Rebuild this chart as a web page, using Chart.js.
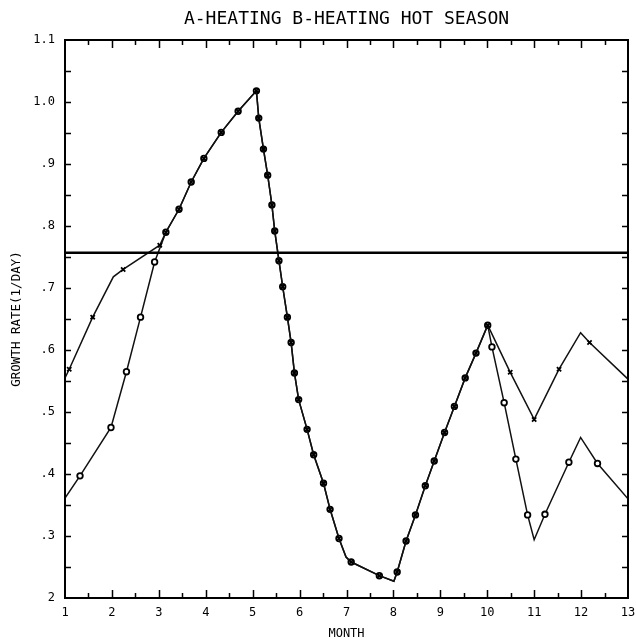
<!DOCTYPE html>
<html><head><meta charset="utf-8">
<script src="https://cdn.jsdelivr.net/npm/chart.js@4/dist/chart.umd.min.js"></script>
<style>html,body{margin:0;padding:0;background:#fff}</style>
</head><body>
<canvas id="c" width="636" height="640"></canvas>
<script>
// ---- text ----
const titleText = 'A-HEATING B-HEATING HOT SEASON';
const xTitleText = 'MONTH';
const yTitleText = 'GROWTH RATE(1/DAY)';
const xTickLabels = ['1','2','3','4','5','6','7','8','9','10','11','12','13'];
const yTickValues = [0.2,0.3,0.4,0.5,0.6,0.7,0.8,0.9,1.0,1.1];
const yTickLabels = ['2','.3','.4','.5','.6','.7','.8','.9','1.0','1.1'];

// ---- data ----
const aStartMonths = [1, 1.09, 1.59, 2.03, 2.24, 3.02];
const aStartRates  = [0.555, 0.569, 0.653, 0.718, 0.730, 0.769];
const bStartMonths = [1, 1.32, 1.98, 2.31, 2.61, 2.91];
const bStartRates  = [0.361, 0.397, 0.475, 0.565, 0.653, 0.742];
const commonMonths = [3.15,3.43,3.69,3.96,4.33,4.69,5.08,5.13,5.23,5.32,5.41,5.47,5.56,5.64,5.74,5.82,5.89,5.98,6.16,6.30,6.51,6.65,6.84,6.99,7.10,7.70,8.01,8.08,8.27,8.47,8.68,8.87,9.09,9.30,9.53,9.76,10.01];
const commonRates  = [0.790,0.827,0.871,0.909,0.951,0.985,1.018,0.974,0.924,0.882,0.834,0.792,0.744,0.702,0.653,0.612,0.563,0.520,0.472,0.431,0.385,0.343,0.296,0.266,0.258,0.236,0.227,0.242,0.292,0.334,0.381,0.421,0.467,0.509,0.555,0.595,0.640];
const aEndMonths = [10.49, 11.0, 11.53, 11.99, 12.18, 13];
const aEndRates  = [0.564, 0.488, 0.569, 0.628, 0.612, 0.553];
const bEndMonths = [10.10, 10.36, 10.61, 10.86, 11.0, 11.23, 11.74, 11.99, 12.35, 13];
const bEndRates  = [0.605, 0.515, 0.424, 0.334, 0.294, 0.335, 0.419, 0.459, 0.417, 0.360];
// vertices that are plain bends (no plotted symbol)
const aBendMonths = [1, 2.03, 6.99, 8.01, 11.99, 13];
const bBendMonths = [1, 6.99, 8.01, 11.0, 11.99, 13];
// reference level line
const refMonths = [1, 13];
const refRates  = [0.757, 0.757];

function pts(ms, rs){ return ms.map((m,i)=>({x:m, y:rs[i]})); }
const aData = pts(aStartMonths.concat(commonMonths, aEndMonths), aStartRates.concat(commonRates, aEndRates));
const bData = pts(bStartMonths.concat(commonMonths, bEndMonths), bStartRates.concat(commonRates, bEndRates));

const MONO = '"DejaVu Sans Mono", "Liberation Mono", monospace';

const frameTicks = {
  id: 'frameTicks',
  afterDraw(chart){
    const {ctx, chartArea:{left,right,top,bottom}, scales:{x,y}} = chart;
    ctx.save();
    ctx.strokeStyle = '#000';
    ctx.lineWidth = 1.5;
    ctx.beginPath();
    x.ticks.forEach(t => {
      if (t.value <= x.min || t.value >= x.max) return;
      const px = Math.round(x.getPixelForValue(t.value)) + 0.5;
      const len = Math.abs(t.value - Math.round(t.value)) < 1e-6 ? 8 : 5;
      ctx.moveTo(px, bottom); ctx.lineTo(px, bottom - len);
      ctx.moveTo(px, top); ctx.lineTo(px, top + len);
    });
    y.ticks.forEach(t => {
      if (t.value <= y.min + 1e-6 || t.value >= y.max - 1e-6) return;
      const py = Math.round(y.getPixelForValue(t.value)) + 0.5;
      ctx.moveTo(left, py); ctx.lineTo(left + 6, py);
      ctx.moveTo(right, py); ctx.lineTo(right - 6, py);
    });
    ctx.stroke();
    ctx.lineWidth = 2;
    ctx.strokeRect(left, top, right - left, bottom - top);
    ctx.restore();
  }
};

new Chart(document.getElementById('c'), {
  type: 'line',
  data: {
    datasets: [
      { label: 'ref', data: pts(refMonths, refRates), borderColor: '#000', borderWidth: 2.5, pointRadius: 0, tension: 0 },
      { label: 'A', data: aData, borderColor: '#111', borderWidth: 1.5, tension: 0,
        pointStyle: 'crossRot', pointBorderColor: '#000', pointBackgroundColor: '#000', pointBorderWidth: 1.8,
        pointRadius: c => aBendMonths.includes(c.raw && c.raw.x) ? 0 : 3 },
      { label: 'B', data: bData, borderColor: '#111', borderWidth: 1.5, tension: 0,
        pointStyle: 'circle', pointBorderColor: '#000', pointBackgroundColor: '#fff', pointBorderWidth: 1.8,
        pointRadius: c => bBendMonths.includes(c.raw && c.raw.x) ? 0 : 2.8 }
    ]
  },
  options: {
    responsive: false,
    animation: false,
    devicePixelRatio: 1,
    layout: { padding: { left: 0, right: 0, top: 0, bottom: 0 } },
    plugins: {
      legend: { display: false },
      tooltip: { enabled: false },
      title: { display: true, text: titleText, fullSize: false, color: '#000',
               font: { family: MONO, size: 18, weight: 'normal', lineHeight: 1.2 },
               padding: { top: 9, bottom: 9.4 } }
    },
    scales: {
      x: {
        type: 'linear', min: 1, max: 13,
        afterFit: s => { s.height = 42; s.paddingRight = 8; },
        grid: { display: false, drawTicks: false },
        border: { display: false },
        ticks: { stepSize: 0.5, autoSkip: false, maxRotation: 0, padding: 8, color: '#000',
                 font: { family: MONO, size: 12 },
                 callback: v => Math.abs(v - Math.round(v)) < 1e-6 ? xTickLabels[Math.round(v) - 1] : '' },
        title: { display: true, text: xTitleText, color: '#000', padding: 0,
                 font: { family: MONO, size: 12, lineHeight: 1 } }
      },
      y: {
        type: 'linear', min: 0.2, max: 1.1,
        afterFit: s => { s.width = 65; },
        grid: { display: false, drawTicks: false },
        border: { display: false },
        ticks: { stepSize: 0.05, autoSkip: false, padding: 10, color: '#000',
                 font: { family: MONO, size: 12 },
                 callback: v => { const i = yTickValues.findIndex(t => Math.abs(t - v) < 1e-6); return i >= 0 ? yTickLabels[i] : ''; } },
        title: { display: true, text: yTitleText, color: '#000', padding: { top: 9.5, bottom: 0 },
                 font: { family: MONO, size: 12.5, lineHeight: 1.2 } }
      }
    }
  },
  plugins: [frameTicks]
});
</script>
</body></html>
